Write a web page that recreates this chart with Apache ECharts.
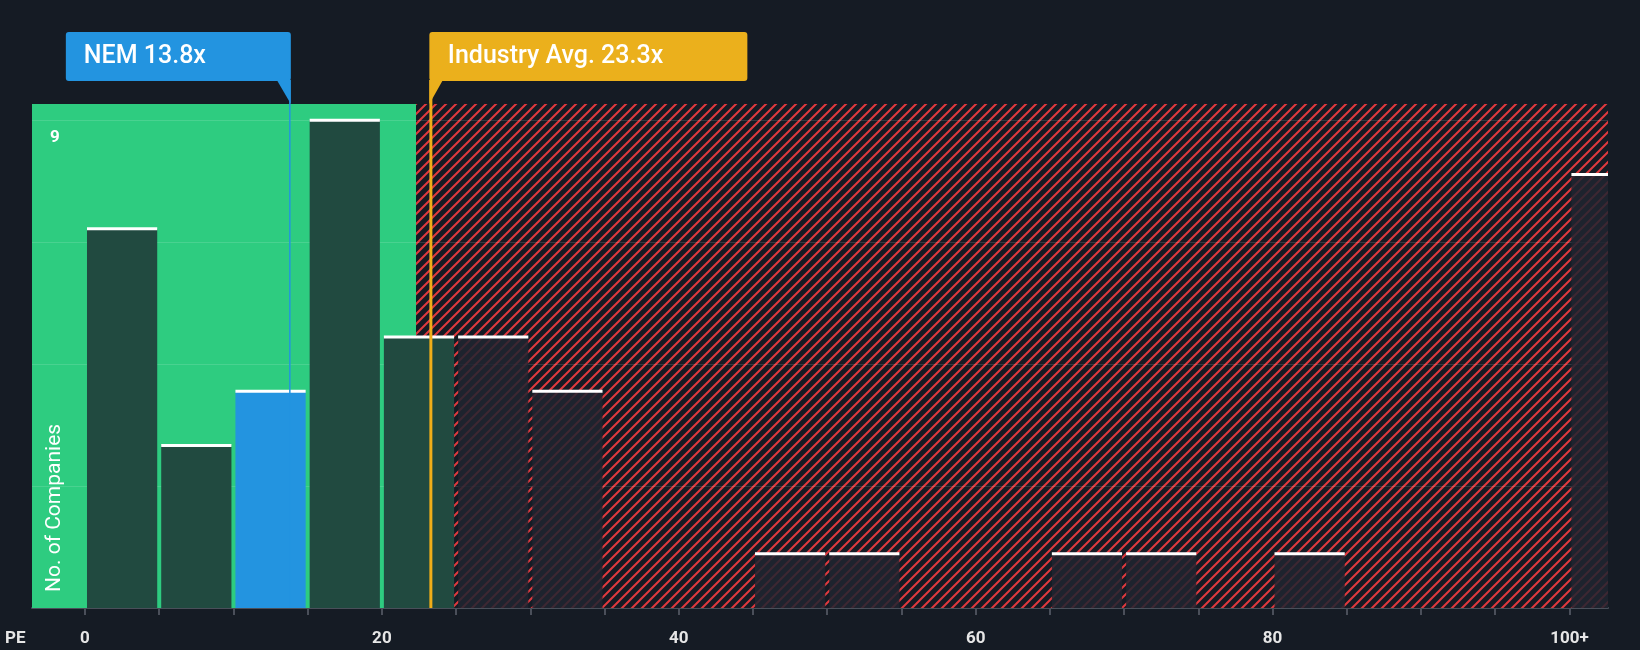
<!DOCTYPE html>
<html>
<head>
<meta charset="utf-8">
<script src="https://cdn.jsdelivr.net/npm/echarts@6/dist/echarts.min.js"></script>
<style>
  html, body { margin: 0; padding: 0; background: #151b24; }
  #chart { width: 1640px; height: 650px; }
</style>
</head>
<body>
<div id="chart"></div>
<script>
// bins of PE (start, end) and number of companies
var binStarts = [0, 5, 10, 15, 20, 25, 30, 45, 50, 65, 70, 80, 100];
var binEnds   = [5, 10, 15, 20, 25, 30, 35, 50, 55, 70, 75, 85, 105];
var counts    = [7, 3, 4, 9, 5, 5, 4, 1, 1, 1, 1, 1, 8];
var xLabels   = [0, 20, 40, 60, 80, 100];
var yGrid     = [2.25, 4.5, 6.75, 9];
var companyPE = 13.8;
var industryPE = 23.3;
var fairLimit = 22.3;

var chart = echarts.init(document.getElementById('chart'));

// red hatch pattern
var hatch = document.createElement('canvas');
hatch.width = 10; hatch.height = 10;
var hc = hatch.getContext('2d');
hc.fillStyle = '#151b24';
hc.fillRect(0, 0, 10, 10);
hc.strokeStyle = '#e0393e';
hc.lineWidth = 2;
hc.beginPath();
hc.moveTo(-1, 11); hc.lineTo(11, -1);
hc.moveTo(-6, 6); hc.lineTo(6, -6);
hc.moveTo(4, 16); hc.lineTo(16, 4);
hc.stroke();

var barData = binStarts.map(function (s, i) { return [s, binEnds[i], counts[i]]; });

var option = {
    backgroundColor: '#151b24',
    animation: false,
    grid: { left: 32, right: 32, top: 104, bottom: 42 },
    xAxis: {
        type: 'value',
        min: -3.57,
        max: 102.6,
        splitLine: { show: false },
        axisLine: { lineStyle: { color: '#4a4f5a', width: 2 } },
        axisTick: { show: true, customValues: [0,5,10,15,20,25,30,35,40,45,50,55,60,65,70,75,80,85,90,95,100], length: 7, lineStyle: { color: '#4a4f5a', width: 2 } },
        axisLabel: {
            customValues: xLabels,
            color: '#e6e6e6', fontSize: 17, fontWeight: 'bold', fontFamily: 'Roboto', margin: 22,
            formatter: function (v) { return v === 100 ? '100+' : String(v); }
        }
    },
    yAxis: {
        type: 'value',
        min: 0,
        max: 9.3,
        axisLine: { show: false },
        axisTick: { show: false },
        splitLine: { show: false },
        axisLabel: { show: false }
    },
    series: [
        {
            type: 'line', data: [], silent: true,
            markArea: {
                silent: true,
                data: [
                    [{ xAxis: -3.57, yAxis: 0, itemStyle: { color: '#2ecc80' } }, { xAxis: fairLimit, yAxis: 9.3 }],
                    [{ xAxis: fairLimit, yAxis: 0, itemStyle: { color: { image: hatch, repeat: 'repeat' } } }, { xAxis: 102.6, yAxis: 9.3 }]
                ]
            },
            markLine: {
                silent: true, symbol: 'none', label: { show: false },
                lineStyle: { color: 'rgba(255,255,255,0.13)', width: 1, type: 'solid' },
                data: yGrid.map(function (v) { return { yAxis: v }; })
            }
        },
        {
            type: 'custom',
            data: barData,
            clip: true,
            z: 5,
            renderItem: function (params, api) {
                var s = api.value(0), e = api.value(1), c = api.value(2);
                var p0 = api.coord([s, c]);
                var p1 = api.coord([e, 0]);
                var x = p0[0] + 2, w = p1[0] - p0[0] - 4;
                var color;
                if (s <= companyPE && companyPE < e) color = '#2394e0';
                else if (s < fairLimit) color = '#214a40';
                else color = 'rgba(32,36,48,0.85)';
                return {
                    type: 'group',
                    children: [
                        { type: 'rect', shape: { x: x, y: p0[1], width: w, height: p1[1] - p0[1] }, style: { fill: color } },
                        { type: 'rect', shape: { x: x, y: p0[1] - 1.5, width: w, height: 3 }, style: { fill: '#ffffff' } }
                    ]
                };
            }
        }
    ]
};
chart.setOption(option);

// callouts and marker lines
var plotTop = 104, plotBottom = 608;
var nx = chart.convertToPixel({ xAxisIndex: 0 }, companyPE);
var ix = chart.convertToPixel({ xAxisIndex: 0 }, industryPE);
var y9 = chart.convertToPixel({ yAxisIndex: 0 }, 9);
chart.setOption({
    graphic: [
        { type: 'line', z: 20, shape: { x1: nx, y1: 80, x2: nx, y2: plotBottom }, style: { stroke: '#2394e0', lineWidth: 1.5 } },
        { type: 'rect', z: 20, shape: { x: nx - 224, y: 32, width: 225, height: 49, r: 3 }, style: { fill: '#2394e0' } },
        { type: 'polygon', z: 20, shape: { points: [[nx - 13, 80], [nx + 1, 80], [nx + 1, plotTop]] }, style: { fill: '#2394e0' } },
        { type: 'text', z: 21, style: { x: nx - 206, y: 57, text: 'NEM 13.8x', fill: '#ffffff', font: '500 25px Roboto', verticalAlign: 'middle' } },

        { type: 'line', z: 20, shape: { x1: ix, y1: 80, x2: ix, y2: plotBottom }, style: { stroke: '#f0ad18', lineWidth: 3 } },
        { type: 'rect', z: 20, shape: { x: ix - 1.5, y: 32, width: 318, height: 49, r: 3 }, style: { fill: '#ebb01c' } },
        { type: 'polygon', z: 20, shape: { points: [[ix - 1.5, 80], [ix + 12, 80], [ix - 1.5, plotTop]] }, style: { fill: '#ebb01c' } },
        { type: 'text', z: 21, style: { x: ix + 17, y: 57, text: 'Industry Avg. 23.3x', fill: '#ffffff', font: '500 25px Roboto', verticalAlign: 'middle' } },

        { type: 'text', z: 21, x: 55, y: 592, rotation: Math.PI / 2, style: { x: 0, y: 0, text: 'No. of Companies', fill: '#ffffff', font: '21px Roboto', verticalAlign: 'middle' } },
        { type: 'text', z: 21, style: { x: 50, y: y9 + 17, text: '9', fill: '#ffffff', font: 'bold 17px Roboto', verticalAlign: 'middle' } },
        { type: 'text', z: 21, style: { x: 5, y: 639, text: 'PE', fill: '#e6e6e6', font: 'bold 17px Roboto', verticalAlign: 'middle' } }
    ]
});
</script>
</body>
</html>
